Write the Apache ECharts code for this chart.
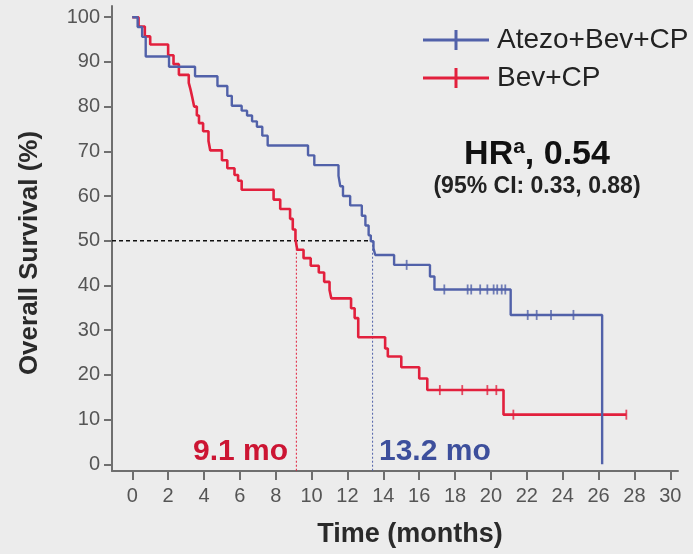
<!DOCTYPE html>
<html><head><meta charset="utf-8">
<script src="https://cdn.jsdelivr.net/npm/echarts@6/dist/echarts.min.js"></script>
<style>html,body{margin:0;padding:0;background:#ececec}#c{width:693px;height:554px}</style>
</head><body><div id="c"></div>
<script>
// ---- data ----
const xTicks = [0,2,4,6,8,10,12,14,16,18,20,22,24,26,28,30];
const yTicks = [0,10,20,30,40,50,60,70,80,90,100];
const seriesNames = ['Atezo+Bev+CP', 'Bev+CP'];
// Kaplan-Meier steps [time (months), survival %]
const atezoSteps = [[0,100],[0.3,97.8],[0.55,95.6],[0.75,91.2],[2.05,88.9],[3.5,86.8],[4.75,84.6],[5.3,82.4],[5.55,80.2],[6.1,79.1],[6.4,78.0],[6.68,76.7],[6.95,75.5],[7.25,73.5],[7.55,71.3],[9.8,69.1],[10.15,66.9],[11.5,64.5],[11.6,62.2],[11.75,60.0],[12.15,57.9],[12.8,55.6],[13.0,53.4],[13.18,51.2],[13.3,49.9],[13.45,48.3],[13.55,46.8],[14.6,44.6],[16.6,42.0],[16.85,39.1],[21.1,33.4],[26.2,33.4],[26.2,0]];
const atezoCensored = [[15.3,44.6],[17.4,39.1],[18.7,39.1],[18.9,39.1],[19.4,39.1],[19.8,39.1],[20.15,39.1],[20.35,39.1],[20.6,39.1],[20.8,39.1],[22.05,33.4],[22.55,33.4],[23.35,33.4],[24.6,33.4]];
const bevSteps = [[0,100],[0.35,97.9],[0.7,95.7],[1.0,93.9],[2.0,91.5],[2.3,89.5],[2.6,87.1],[3.15,85.3],[3.25,83.8],[3.35,82.0],[3.45,80.0],[3.6,78.0],[3.72,76.3],[3.95,74.5],[4.25,72.3],[4.35,70.2],[5.0,68.0],[5.3,66.2],[5.7,64.7],[5.9,63.4],[6.1,61.4],[7.88,59.2],[8.25,57.1],[8.8,54.9],[8.95,52.5],[9.1,50.3],[9.2,48.0],[9.55,46.1],[9.95,44.4],[10.4,42.9],[10.7,40.8],[11.0,39.0],[11.1,37.1],[12.2,34.9],[12.4,32.7],[12.6,28.4],[14.1,25.9],[14.25,24.1],[15.0,21.7],[16.0,19.2],[16.45,16.6],[20.7,11.1],[27.55,11.1]];
const bevCensored = [[17.15,16.6],[18.4,16.6],[19.8,16.6],[20.3,16.6],[21.25,11.1],[27.55,11.1]];
const medianSurvival = 50;
const medianBev = 9.15;     // labelled 9.1 mo
const medianAtezo = 13.4;   // labelled 13.2 mo
const medianLabels = ['9.1 mo', '13.2 mo'];
const hrText = ['HR', 'a', ', 0.54'];
const ciText = '(95% CI: 0.33, 0.88)';
const xTitle = 'Time (months)';
const yTitle = 'Overall Survival (%)';

// ---- chart ----
const BLUE = '#5161a9', RED = '#e2203d', AX = '#6f6f6f';
const FONT = '"Liberation Sans", Arial, sans-serif';
const xMin = -1.13, xMax = 30.43, yMin = -1.5, yMax = 102.5;
const chart = echarts.init(document.getElementById('c'), null, {renderer: 'canvas'});
const legendIcon = 'path://M0,8.5h66v3H0z M31.5,0h3v20h-3z';
chart.setOption({
  backgroundColor: '#ececec',
  animation: false,
  grid: {left: 112, right: 15, top: 6, bottom: 83, containLabel: false},
  legend: {
    data: [{name: seriesNames[0], icon: legendIcon}, {name: seriesNames[1], icon: legendIcon}],
    orient: 'vertical', left: 423, top: 26, padding: 0, itemWidth: 66, itemHeight: 20, itemGap: 10,
    textStyle: {fontFamily: 'Liberation Sans, Arial, sans-serif', fontSize: 28, color: '#222', lineHeight: 27, padding: [0,0,0,3]},
    selectedMode: false
  },
  xAxis: {
    type: 'value', min: xMin, max: xMax,
    axisLine: {show: true, onZero: false, lineStyle: {color: AX, width: 2}},
    axisTick: {show: true, customValues: xTicks, length: 9, lineStyle: {color: AX, width: 2}},
    axisLabel: {customValues: xTicks, fontSize: 20, color: '#555', margin: 15, fontFamily: 'Liberation Sans, Arial, sans-serif'},
    splitLine: {show: false}
  },
  yAxis: {
    type: 'value', min: yMin, max: yMax,
    axisLine: {show: true, onZero: false, lineStyle: {color: AX, width: 2}},
    axisTick: {show: true, customValues: yTicks, length: 8, lineStyle: {color: AX, width: 2}},
    axisLabel: {customValues: yTicks, fontSize: 20, color: '#555', margin: 12, fontFamily: 'Liberation Sans, Arial, sans-serif'},
    splitLine: {show: false}
  },
  series: [
    {name: 'ref50', type: 'line', silent: true, showSymbol: false, z: 1,
     data: [[xMin, medianSurvival], [medianAtezo, medianSurvival]],
     lineStyle: {color: '#111', width: 1.3, type: [4, 3]}},
    {name: 'refBev', type: 'line', silent: true, showSymbol: false, z: 1,
     data: [[medianBev, medianSurvival], [medianBev, yMin]],
     lineStyle: {color: RED, width: 1, type: [2, 2]}},
    {name: 'refAtezo', type: 'line', silent: true, showSymbol: false, z: 1,
     data: [[medianAtezo, medianSurvival], [medianAtezo, yMin]],
     lineStyle: {color: BLUE, width: 1, type: [2, 2]}},
    {name: seriesNames[1], type: 'line', step: 'end', showSymbol: false, color: RED, z: 3,
     data: bevSteps, lineStyle: {color: RED, width: 2.6}},
    {name: seriesNames[0], type: 'line', step: 'end', showSymbol: false, color: BLUE, z: 4,
     data: atezoSteps, lineStyle: {color: BLUE, width: 2.4}},
    {name: 'cBev', type: 'scatter', symbol: 'rect', symbolSize: [1.8, 10], z: 3,
     data: bevCensored, itemStyle: {color: RED}},
    {name: 'cAtezo', type: 'scatter', symbol: 'rect', symbolSize: [1.8, 10], z: 4,
     data: atezoCensored, itemStyle: {color: BLUE}}
  ],
  graphic: [
    {type: 'text', style: {x: 537, y: 155, text: '{b|' + hrText[0] + '}{s|' + hrText[1] + '}{b|' + hrText[2] + '}',
      align: 'center', verticalAlign: 'middle',
      rich: {b: {fontFamily: 'Liberation Sans, Arial, sans-serif', fontWeight: 'bold', fontSize: 34, fill: '#111', lineHeight: 36},
             s: {fontFamily: 'Liberation Sans, Arial, sans-serif', fontWeight: 'bold', fontSize: 21, fill: '#111', lineHeight: 36, verticalAlign: 'top', padding: [0,0,14,0]}}}},
    {type: 'text', style: {x: 537, y: 187, text: ciText, align: 'center', verticalAlign: 'middle',
      font: 'bold 23px ' + FONT, fill: '#222'}},
    {type: 'text', style: {x: 288, y: 452, text: medianLabels[0], align: 'right', verticalAlign: 'middle',
      font: 'bold 30px ' + FONT, fill: '#cc1533'}},
    {type: 'text', style: {x: 379, y: 452, text: medianLabels[1], align: 'left', verticalAlign: 'middle',
      font: 'bold 30px ' + FONT, fill: '#3d4f9c'}},
    {type: 'text', style: {x: 410, y: 535, text: xTitle, align: 'center', verticalAlign: 'middle',
      font: 'bold 27px ' + FONT, fill: '#2a2a2a'}},
    {type: 'text', x: 30, y: 253, rotation: Math.PI / 2, style: {x: 0, y: 0, text: yTitle, align: 'center', verticalAlign: 'middle',
      font: 'bold 26px ' + FONT, fill: '#2a2a2a'}}
  ]
});
</script></body></html>
